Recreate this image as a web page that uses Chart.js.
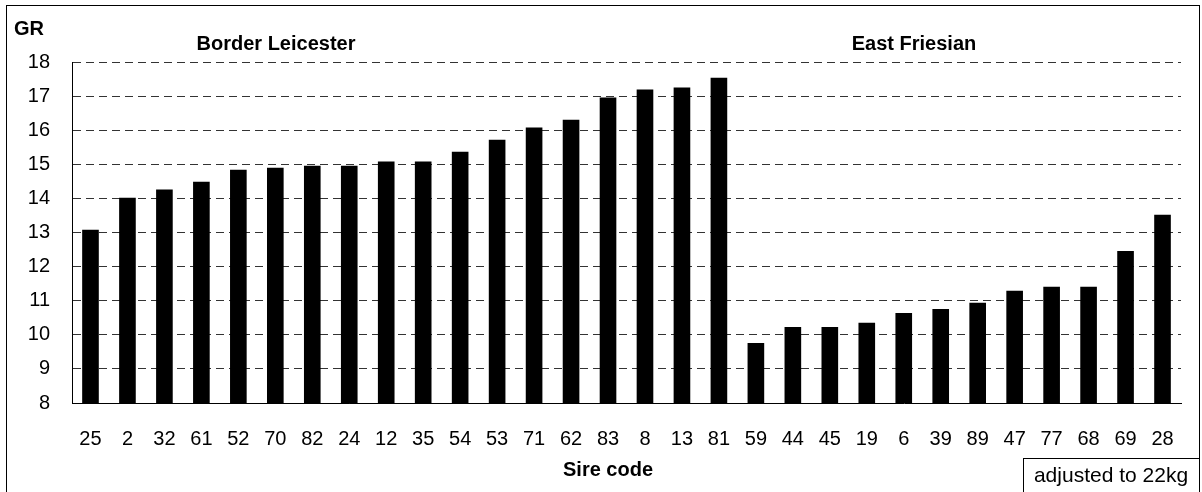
<!DOCTYPE html>
<html>
<head>
<meta charset="utf-8">
<script src="https://cdn.jsdelivr.net/npm/chart.js@4/dist/chart.umd.min.js"></script>
<style>
  html, body { margin: 0; padding: 0; background: #fff; }
  #wrap { position: relative; width: 1202px; height: 492px; }
</style>
</head>
<body>
<div id="wrap"><canvas id="chart"></canvas></div>
<script>
// --- Data ---
const sireCodes = ['25','2','32','61','52','70','82','24','12','35','54','53','71','62','83','8','13','81',
                   '59','44','45','19','6','39','89','47','77','68','69','28'];
const growthRate = [13.08, 14.02, 14.26, 14.49, 14.84, 14.90, 14.96, 14.96, 15.08, 15.08, 15.37, 15.72,
                    16.08, 16.31, 16.96, 17.19, 17.25, 17.54,
                    9.76, 10.23, 10.23, 10.35, 10.64, 10.76, 10.94, 11.29, 11.41, 11.41, 12.46, 13.52];
const yTicks = [8, 9, 10, 11, 12, 13, 14, 15, 16, 17, 18];
const groupLabels = ['Border Leicester', 'East Friesian'];

const FONT = '"Liberation Sans", Arial, sans-serif';

// frame + extra texts (GR, breed names, note box)
const decor = {
  id: 'decor',
  beforeDraw(chart) {
    const ctx = chart.ctx;
    ctx.save();
    ctx.fillStyle = '#fff';
    ctx.fillRect(0, 0, chart.width, chart.height);
    ctx.strokeStyle = '#000';
    ctx.lineWidth = 1;
    ctx.strokeRect(6.5, 5.5, 1193, 500);
    ctx.restore();
  },
  afterDraw(chart) {
    const ctx = chart.ctx;
    ctx.save();
    ctx.fillStyle = '#000';
    ctx.font = 'bold 20px ' + FONT;
    ctx.textBaseline = 'alphabetic';
    ctx.textAlign = 'left';
    ctx.fillText('GR', 14, 35);
    ctx.textAlign = 'center';
    ctx.fillText(groupLabels[0], 276, 50);
    ctx.fillText(groupLabels[1], 914, 50);
    ctx.fillText('Sire code', 608, 476);

    // note box
    ctx.strokeStyle = '#000';
    ctx.lineWidth = 1;
    ctx.strokeRect(1023.5, 458.5, 176, 40);
    ctx.font = '21px ' + FONT;
    ctx.textAlign = 'center';
    ctx.fillText('adjusted to 22kg', 1111, 482);
    ctx.restore();
  }
};

new Chart(document.getElementById('chart'), {
  type: 'bar',
  data: {
    labels: sireCodes,
    datasets: [{
      data: growthRate,
      backgroundColor: '#000',
      borderWidth: 0,
      barPercentage: 0.45,
      categoryPercentage: 1.0
    }]
  },
  options: {
    responsive: true,
    maintainAspectRatio: false,
    animation: false,
    events: [],
    layout: { padding: { left: 0, right: 21, top: 62, bottom: 0 } },
    plugins: { legend: { display: false }, tooltip: { enabled: false }, title: { display: false } },
    scales: {
      x: {
        grid: { display: false, drawTicks: false },
        border: { display: true, color: '#000', width: 1 },
        ticks: { color: '#000', font: { family: FONT, size: 20 }, padding: 24, maxRotation: 0, autoSkip: false },
        afterFit: (s) => { s.height = 89; }
      },
      y: {
        min: yTicks[0],
        max: yTicks[yTicks.length - 1],
        afterBuildTicks: (s) => { s.ticks = yTicks.map(v => ({ value: v })); },
        grid: { color: '#333', lineWidth: 1, drawTicks: false },
        border: { display: true, color: '#000', width: 1, dash: [8, 5] },
        ticks: { color: '#000', font: { family: FONT, size: 20 }, padding: 22 },
        afterFit: (s) => { s.width = 72; }
      }
    }
  },
  plugins: [decor]
});
</script>
</body>
</html>
